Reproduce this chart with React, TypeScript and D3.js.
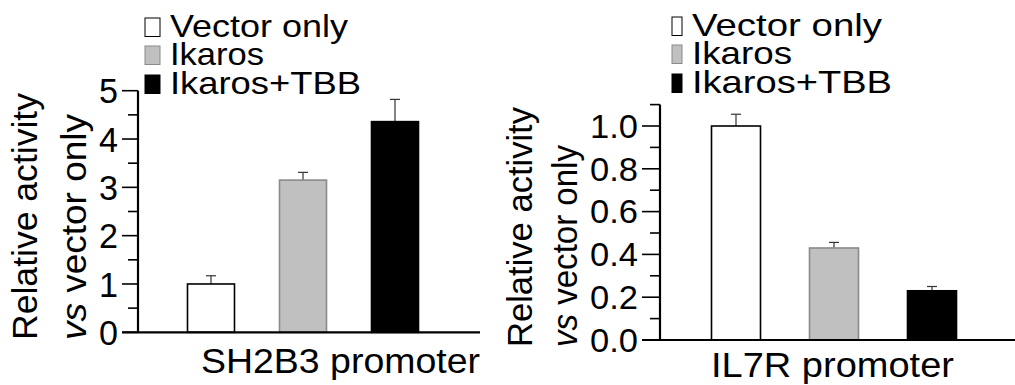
import * as d3 from "d3";

// categories + values
const groups = ["Vector only", "Ikaros", "Ikaros+TBB"];
const fills = ["#ffffff", "#c0c0c0", "#000000"];
const strokes = ["#000000", "#8a8a8a", "#000000"];

const sh2b3Means = [1.0, 3.15, 4.36];
const sh2b3Errors = [0.17, 0.16, 0.46];
const sh2b3Ticks = [0, 1, 2, 3, 4, 5];
const sh2b3Minor = [0.5, 1.5, 2.5, 3.5, 4.5];

const il7rMeans = [1.0, 0.43, 0.23];
const il7rErrors = [0.055, 0.026, 0.02];
const il7rTicks = [0, 0.2, 0.4, 0.6, 0.8, 1.0];
const il7rMinor = [0.1, 0.3, 0.5, 0.7, 0.9, 1.1];

const FONT = "'Liberation Sans', Arial, Helvetica, sans-serif";

const Panel = ({
  means, errors, ticks, minor, tickFmt, yRange, yDomain, axisTop,
  axisX, xAxisEnd, centers, barW, tickFont, tickLen, title,
  legendX, legendBoxW, legendLens, legendBase, ytitle,
}: any) => {
  const y = d3.scaleLinear().domain(yDomain).range(yRange);
  const x = d3.scalePoint<string>().domain(groups).range(centers);
  const y0 = y(0);
  return (
    <g fontFamily={FONT}>
      {/* legend */}
      {groups.map((g, i) => (
        <g key={g}>
          <rect x={legendX} y={legendBase[i] - 19} width={legendBoxW} height={18.5}
            fill={fills[i]} stroke={strokes[i]} strokeWidth={1} />
          <text x={legendX + legendBoxW + 10} y={legendBase[i]} fontSize={32}
            textLength={legendLens[i]} lengthAdjust="spacingAndGlyphs">{g}</text>
        </g>
      ))}

      {/* y title */}
      <text transform={`translate(${ytitle.x1},${ytitle.y}) rotate(-90)`} fontSize={35}
        textLength={ytitle.len1} lengthAdjust="spacingAndGlyphs">Relative activity</text>
      <text transform={`translate(${ytitle.x2},${ytitle.y}) rotate(-90)`} fontSize={35}
        textLength={ytitle.len2} lengthAdjust="spacingAndGlyphs">
        <tspan fontStyle="italic">vs</tspan> vector only
      </text>

      {/* y axis */}
      <line x1={axisX} x2={axisX} y1={y(axisTop)} y2={y0} stroke="#000" strokeWidth={2.2} />
      {ticks.map((t: number) => (
        <g key={"t" + t}>
          <line x1={axisX - tickLen} x2={axisX} y1={y(t)} y2={y(t)} stroke="#000" strokeWidth={1.6} />
          <text x={axisX - tickLen - 4} y={y(t)} dy="0.36em" textAnchor="end"
            fontSize={tickFont.size} textLength={tickFont.len} lengthAdjust="spacingAndGlyphs">
            {tickFmt(t)}
          </text>
        </g>
      ))}
      {minor.map((t: number) => (
        <line key={"m" + t} x1={axisX - 10} x2={axisX} y1={y(t)} y2={y(t)} stroke="#000" strokeWidth={1.6} />
      ))}

      {/* bars + error bars */}
      {means.map((m: number, i: number) => {
        const cx = x(groups[i])!;
        const top = y(m + errors[i]);
        return (
          <g key={"b" + i}>
            <line x1={cx} x2={cx} y1={y(m)} y2={top} stroke="#333" strokeWidth={1.2} />
            <line x1={cx - 5} x2={cx + 5} y1={top} y2={top} stroke="#333" strokeWidth={1.2} />
            <rect x={cx - barW / 2} y={y(m)} width={barW} height={y0 - y(m)}
              fill={fills[i]} stroke={strokes[i]} strokeWidth={1.6} />
          </g>
        );
      })}

      {/* x axis */}
      <line x1={axisX - tickLen} x2={xAxisEnd} y1={y0} y2={y0} stroke="#000" strokeWidth={2.2} />
      <text x={title.x} y={title.y} fontSize={35} textLength={title.len}
        lengthAdjust="spacingAndGlyphs">{title.text}</text>
    </g>
  );
};

export default function App() {
  return (
    <svg width={1015} height={385} style={{ position: "absolute", left: 0, top: 0, background: "#fff" }}>
      <Panel
        means={sh2b3Means} errors={sh2b3Errors} ticks={sh2b3Ticks} minor={sh2b3Minor}
        tickFmt={d3.format("d")} yDomain={[0, 5]} yRange={[332.3, 90.7]} axisTop={5}
        axisX={138} xAxisEnd={480} centers={[211, 395]} barW={47}
        tickFont={{ size: 35, len: 19 }} tickLen={16}
        title={{ text: "SH2B3 promoter", x: 201, y: 373, len: 279 }}
        legendX={145} legendBoxW={15} legendLens={[178, 94, 191]} legendBase={[37, 65, 94]}
        ytitle={{ x1: 37, x2: 86, y: 340, len1: 247, len2: 226 }}
      />
      <Panel
        means={il7rMeans} errors={il7rErrors} ticks={il7rTicks} minor={il7rMinor}
        tickFmt={d3.format(".1f")} yDomain={[0, 1]} yRange={[340, 126]} axisTop={1.1}
        axisX={660} xAxisEnd={1015} centers={[736, 932]} barW={49}
        tickFont={{ size: 33, len: 48 }} tickLen={18}
        title={{ text: "IL7R promoter", x: 711, y: 377, len: 243 }}
        legendX={672} legendBoxW={10} legendLens={[190, 100, 200]} legendBase={[36, 64, 93]}
        ytitle={{ x1: 532, x2: 577, y: 347, len1: 240, len2: 202 }}
      />
    </svg>
  );
}
